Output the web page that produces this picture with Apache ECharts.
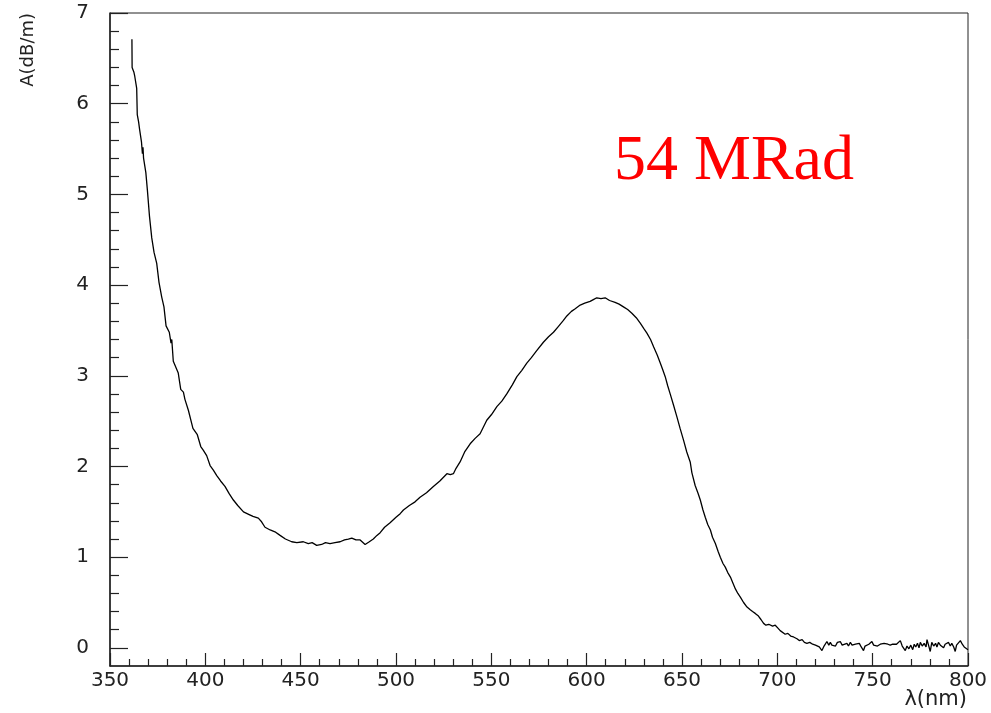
<!DOCTYPE html>
<html>
<head>
<meta charset="utf-8">
<title>Absorption spectrum, 54 MRad</title>
<script src="https://cdn.jsdelivr.net/npm/echarts@6/dist/echarts.min.js"></script>
<style>
  html, body { margin: 0; padding: 0; background: #ffffff; }
  #chart { width: 991px; height: 713px; }
</style>
</head>
<body>
<div id="chart"></div>
<script>
// Wavelength in nm
const wavelength = [
  361.5, 361.6, 362.5, 363.0, 364.0, 364.3, 365.0, 365.5, 366.5, 367.0,
  367.3, 367.6, 368.8, 369.6, 370.7, 371.9, 373.1, 374.5, 375.7, 377.1,
  378.3, 379.4, 381.1, 382.0, 382.4, 383.2, 385.8, 387.1, 388.5, 389.3,
  391.1, 393.5, 395.8, 397.6, 398.9, 400.7, 402.5, 404.2, 406.0, 408.0,
  410.3, 412.5, 414.7, 417.0, 420.0, 423.0, 425.0, 427.8, 429.5, 431.3,
  434.0, 436.5, 439.2, 442.0, 445.3, 448.0, 451.4, 454.0, 456.0, 458.4,
  461.0, 463.0, 465.4, 468.0, 470.7, 473.0, 475.0, 476.8, 479.0, 481.2,
  483.8, 486.0, 488.1, 490.0, 491.7, 494.0, 496.9, 500.0, 502.2, 503.9,
  507.0, 510.0, 512.6, 516.0, 519.6, 523.0, 526.7, 528.5, 530.1, 531.5,
  533.6, 536.0, 538.9, 541.5, 544.1, 547.6, 550.0, 552.9, 555.5, 558.1,
  561.0, 563.4, 566.0, 568.6, 571.0, 573.9, 577.3, 580.0, 582.6, 585.0,
  587.8, 589.6, 592.0, 594.0, 596.6, 599.0, 601.8, 603.5, 605.3, 607.5,
  609.7, 612.0, 614.9, 617.0, 619.3, 621.5, 623.7, 626.0, 628.1, 630.0,
  631.6, 633.5, 635.1, 637.0, 638.6, 640.0, 641.2, 642.5, 643.8, 645.5,
  647.3, 649.0, 650.8, 652.5, 654.3, 655.2, 656.9, 658.5, 659.6, 661.0,
  662.2, 663.5, 664.9, 666.0, 667.5, 669.0, 670.1, 671.5, 672.7, 674.0,
  675.4, 676.8, 678.0, 679.3, 680.6, 682.3, 684.1, 685.8, 687.0, 688.4,
  690.1, 691.5, 692.8, 694.0, 695.5, 696.3, 697.5, 698.9, 700.2, 701.5,
  702.5, 704.1, 705.5, 707.0, 708.5, 710.3, 711.5, 713.0, 714.2, 715.5,
  717.0, 718.5, 720.0, 720.8, 722.0, 723.4, 724.5, 725.3, 726.0, 727.0,
  727.8, 728.6, 729.5, 730.5, 731.5, 732.2, 733.0, 734.0, 735.0, 736.5,
  737.3, 738.3, 739.2, 740.0, 741.0, 742.0, 743.0, 744.0, 745.2, 746.0,
  747.0, 748.0, 749.0, 749.6, 750.5, 751.5, 752.5, 754.0, 755.0, 756.0,
  757.0, 758.0, 759.2, 760.5, 761.5, 762.5, 763.5, 764.5, 765.5, 766.3,
  767.1, 768.0, 769.0, 770.0, 771.0, 771.8, 772.6, 773.5, 774.3, 775.0,
  776.0, 777.0, 778.0, 778.5, 779.3, 780.2, 781.0, 782.0, 783.0, 783.7,
  784.5, 785.5, 786.3, 787.2, 788.0, 789.0, 789.8, 790.7, 791.5, 792.5,
  793.3, 794.0, 795.0, 796.0, 797.0, 798.0, 799.0, 800.0
];

// Absorption in dB/m
const absorption = [
  6.71, 6.40, 6.35, 6.30, 6.17, 5.88, 5.80, 5.72, 5.58, 5.45,
  5.52, 5.40, 5.24, 5.05, 4.76, 4.52, 4.36, 4.24, 4.03, 3.87,
  3.76, 3.55, 3.48, 3.36, 3.40, 3.16, 3.03, 2.85, 2.82, 2.74,
  2.62, 2.42, 2.35, 2.22, 2.18, 2.12, 2.01, 1.96, 1.90, 1.84,
  1.78, 1.70, 1.63, 1.57, 1.50, 1.47, 1.45, 1.43, 1.39, 1.33,
  1.30, 1.28, 1.24, 1.20, 1.17, 1.16, 1.17, 1.15, 1.16, 1.13,
  1.14, 1.16, 1.15, 1.16, 1.17, 1.19, 1.20, 1.21, 1.19, 1.19,
  1.14, 1.17, 1.20, 1.24, 1.27, 1.33, 1.38, 1.44, 1.48, 1.52,
  1.57, 1.61, 1.66, 1.71, 1.78, 1.84, 1.92, 1.91, 1.92, 1.98,
  2.05, 2.16, 2.25, 2.31, 2.36, 2.51, 2.57, 2.66, 2.72, 2.80,
  2.90, 2.99, 3.06, 3.14, 3.20, 3.28, 3.37, 3.43, 3.48, 3.54,
  3.61, 3.66, 3.71, 3.74, 3.78, 3.80, 3.82, 3.84, 3.86, 3.85,
  3.86, 3.83, 3.81, 3.79, 3.76, 3.73, 3.69, 3.64, 3.58, 3.52,
  3.47, 3.40, 3.32, 3.23, 3.14, 3.06, 2.99, 2.89, 2.80, 2.68,
  2.55, 2.42, 2.29, 2.16, 2.05, 1.93, 1.79, 1.70, 1.63, 1.52,
  1.44, 1.36, 1.30, 1.22, 1.15, 1.06, 1.00, 0.93, 0.89, 0.83,
  0.78, 0.71, 0.65, 0.60, 0.56, 0.50, 0.45, 0.42, 0.40, 0.38,
  0.35, 0.31, 0.27, 0.25, 0.26, 0.25, 0.24, 0.25, 0.22, 0.19,
  0.17, 0.15, 0.16, 0.13, 0.12, 0.10, 0.08, 0.09, 0.06, 0.05,
  0.06, 0.04, 0.03, 0.04, 0.01, -0.03, 0.02, 0.00, 0.07, 0.03,
  0.06, 0.03, 0.05, 0.02, 0.06, 0.04, 0.07, 0.03, 0.05, 0.05,
  0.02, 0.06, 0.03, 0.01, 0.04, 0.02, 0.05, 0.01, -0.03, 0.02,
  0.00, 0.04, 0.02, 0.07, 0.03, 0.05, 0.02, 0.04, 0.03, 0.05,
  0.03, 0.04, 0.03, 0.04, 0.03, 0.04, 0.05, 0.08, 0.02, 0.04,
  -0.03, 0.02, -0.01, 0.03, -0.02, 0.04, 0.01, 0.05, 0.00, 0.06,
  0.02, 0.05, 0.01, 0.09, 0.03, -0.04, 0.06, 0.02, 0.05, 0.01,
  0.06, 0.03, 0.05, 0.00, 0.04, 0.02, 0.06, 0.02, 0.05, 0.01,
  -0.04, 0.03, 0.02, 0.08, 0.04, 0.01, 0.02, -0.02
];

// Axis ticks
const xTickLabels = [350, 400, 450, 500, 550, 600, 650, 700, 750, 800];
const yTickLabels = [0, 1, 2, 3, 4, 5, 6, 7];
const yMinorStep = 0.2;

const xTitle = 'λ(nm)';
const yTitle = 'A(dB/m)';
const doseLabel = '54 MRad';

const points = wavelength.map((w, i) => [w, absorption[i]]);

// Minor ticks on the y axis every 0.2, skipping the integer positions
const yMinorTicks = [];
for (let k = 1; k <= 35; k++) {
  if (k % 5 !== 0) yMinorTicks.push(+(k * yMinorStep).toFixed(1));
}

const axisColor = '#222';
const labelFont = { fontFamily: 'DejaVu Sans', fontSize: 20, color: '#222' };

const chart = echarts.init(document.getElementById('chart'), null, { renderer: 'canvas' });

chart.setOption({
  animation: false,
  backgroundColor: '#ffffff',
  grid: {
    left: 110, right: 23, top: 13, bottom: 47,
    show: true, borderColor: axisColor, borderWidth: 1, backgroundColor: 'transparent'
  },
  xAxis: {
    type: 'value',
    min: xTickLabels[0],
    max: xTickLabels[xTickLabels.length - 1],
    interval: 50,
    axisLine: { show: true, onZero: false, lineStyle: { color: axisColor, width: 1.5 } },
    axisTick: { show: true, inside: true, length: 13, lineStyle: { color: axisColor, width: 1.2 } },
    minorTick: { show: true, splitNumber: 5, length: 7, lineStyle: { color: axisColor, width: 1.2 } },
    splitLine: { show: false },
    axisLabel: Object.assign({ margin: 5, showMinLabel: true, showMaxLabel: true }, labelFont)
  },
  yAxis: [
    {
      type: 'value',
      min: -0.2,
      max: 7,
      position: 'left',
      axisLine: { show: true, onZero: false, lineStyle: { color: axisColor, width: 1.5 } },
      axisTick: { show: true, inside: true, length: 18, customValues: yTickLabels,
                  lineStyle: { color: axisColor, width: 1.2 } },
      splitLine: { show: false },
      axisLabel: Object.assign({ margin: 21, customValues: yTickLabels }, labelFont)
    },
    {
      type: 'value',
      min: -0.2,
      max: 7,
      position: 'left',
      axisLine: { show: false, onZero: false },
      axisTick: { show: true, inside: true, length: 9, customValues: yMinorTicks,
                  lineStyle: { color: axisColor, width: 1.2 } },
      splitLine: { show: false },
      axisLabel: { show: false }
    }
  ],
  graphic: [
    {
      type: 'text',
      right: 24, top: 689,
      style: { text: xTitle, fontFamily: 'DejaVu Sans', fontSize: 21, fill: '#222' }
    },
    {
      type: 'text',
      x: 19, y: 13,
      rotation: Math.PI / 2,
      style: { text: yTitle, fontFamily: 'DejaVu Sans', fontSize: 18, fill: '#222',
               align: 'right', verticalAlign: 'top' }
    },
    {
      type: 'text',
      x: 614, y: 130,
      style: { text: doseLabel, fontFamily: 'Liberation Serif', fontSize: 64, fill: '#ff0000',
               align: 'left', verticalAlign: 'top' }
    }
  ],
  series: [
    {
      type: 'line',
      data: points,
      yAxisIndex: 0,
      showSymbol: false,
      symbol: 'none',
      lineStyle: { color: '#000', width: 1.3 },
      silent: true
    }
  ]
});
</script>
</body>
</html>
